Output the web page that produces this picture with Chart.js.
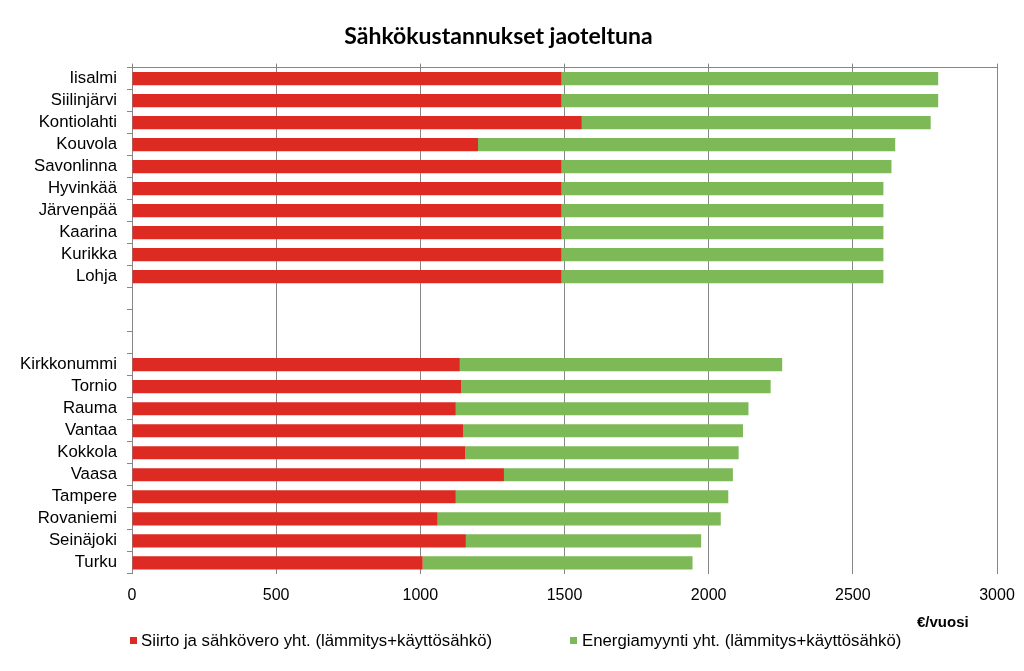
<!DOCTYPE html>
<html>
<head>
<meta charset="utf-8">
<script src="https://cdn.jsdelivr.net/npm/chart.js@4.4.1/dist/chart.umd.min.js"></script>
<style>
  html, body { margin: 0; padding: 0; background: #ffffff; }
  #wrap { position: relative; width: 1024px; height: 671px; overflow: hidden; }
  canvas { position: absolute; left: 0; top: 0; }
  .leg { position: absolute; font-family: "Liberation Sans", Arial, sans-serif; font-size: 16.8px; color: #000; white-space: nowrap; line-height: 17px; }
  .sw { position: absolute; width: 7px; height: 7px; }
  #unit { position: absolute; left: 917px; top: 614px; font-family: "Liberation Sans", Arial, sans-serif; font-weight: bold; font-size: 15px; color: #000; line-height: 15px; }
</style>
</head>
<body>
<div id="wrap">
  <canvas id="c" width="1024" height="671"></canvas>
  <div class="sw" style="left:130px; top:637px; background:#DD2A23;"></div>
  <div class="leg" id="leg1" style="left:141px; top:632px;"></div>
  <div class="sw" style="left:570px; top:637px; background:#7DB956;"></div>
  <div class="leg" id="leg2" style="left:582px; top:632px;"></div>
  <div id="unit"></div>
</div>
<script>
const categories = [
  "Iisalmi", "Siilinjärvi", "Kontiolahti", "Kouvola", "Savonlinna",
  "Hyvinkää", "Järvenpää", "Kaarina", "Kurikka", "Lohja",
  "", "", "",
  "Kirkkonummi", "Tornio", "Rauma", "Vantaa", "Kokkola",
  "Vaasa", "Tampere", "Rovaniemi", "Seinäjoki", "Turku"
];
const siirtoValues = [
  1490, 1490, 1560, 1200, 1490, 1490, 1490, 1490, 1490, 1490,
  null, null, null,
  1137, 1141, 1123, 1148, 1156, 1290, 1123, 1060, 1158, 1008
];
const energiaValues = [
  1306, 1306, 1210, 1447, 1144, 1116, 1116, 1116, 1116, 1116,
  null, null, null,
  1118, 1074, 1015, 971, 948, 794, 945, 982, 816, 936
];
const seriesNames = [
  "Siirto ja sähkövero yht. (lämmitys+käyttösähkö)",
  "Energiamyynti yht. (lämmitys+käyttösähkö)"
];
const titleText = "Sähkökustannukset jaoteltuna";
const unitText = "€/vuosi";
const xTicks = [0, 500, 1000, 1500, 2000, 2500, 3000];

document.getElementById('leg1').textContent = seriesNames[0];
document.getElementById('leg2').textContent = seriesNames[1];
document.getElementById('unit').textContent = unitText;

const gridGray = '#878787';

new Chart(document.getElementById('c'), {
  type: 'bar',
  data: {
    labels: categories,
    datasets: [
      { label: seriesNames[0], data: siirtoValues, backgroundColor: '#DD2A23', borderWidth: 0,
        barPercentage: 0.6, categoryPercentage: 1.0 },
      { label: seriesNames[1], data: energiaValues, backgroundColor: '#7DB956', borderWidth: 0,
        barPercentage: 0.6, categoryPercentage: 1.0 }
    ]
  },
  options: {
    indexAxis: 'y',
    responsive: false,
    animation: false,
    layout: { padding: { left: 0, right: 27, top: 0, bottom: 54 } },
    plugins: {
      legend: { display: false },
      tooltip: { enabled: false },
      title: {
        display: true,
        text: titleText,
        color: '#000',
        font: { family: 'Lato, "Open Sans", sans-serif', size: 23, weight: 'bold' },
        padding: { top: 23, bottom: 13 }
      }
    },
    scales: {
      x: {
        type: 'linear',
        stacked: true,
        min: 0, max: 3000,
        afterBuildTicks: (s) => { s.ticks = xTicks.map(v => ({ value: v })); },
        afterFit: (s) => { s.paddingRight = 0; s.paddingLeft = 0; },
        ticks: {
          color: '#000',
          font: { family: '"Liberation Sans", Arial, sans-serif', size: 16 },
          padding: 12,
          callback: (v) => String(v)
        },
        grid: { color: gridGray, lineWidth: 1, drawTicks: false },
        border: { display: false }
      },
      x2: {
        type: 'linear',
        axis: 'x',
        position: 'top',
        min: 0, max: 3000,
        afterBuildTicks: (s) => { s.ticks = xTicks.map(v => ({ value: v })); },
        afterFit: (s) => { s.paddingRight = 0; s.paddingLeft = 0; },
        ticks: { display: false },
        grid: { drawOnChartArea: false, drawTicks: true, tickLength: 4, color: gridGray },
        border: { display: true, color: gridGray }
      },
      y: {
        type: 'category',
        stacked: true,
        afterFit: (s) => { s.width = 132; },
        ticks: {
          color: '#000',
          font: { family: '"Liberation Sans", Arial, sans-serif', size: 16.8 },
          padding: 10,
          autoSkip: false
        },
        grid: { offset: true, drawOnChartArea: false, drawTicks: true, tickLength: 5, color: gridGray },
        border: { display: true, color: gridGray }
      }
    }
  }
});
</script>
</body>
</html>
